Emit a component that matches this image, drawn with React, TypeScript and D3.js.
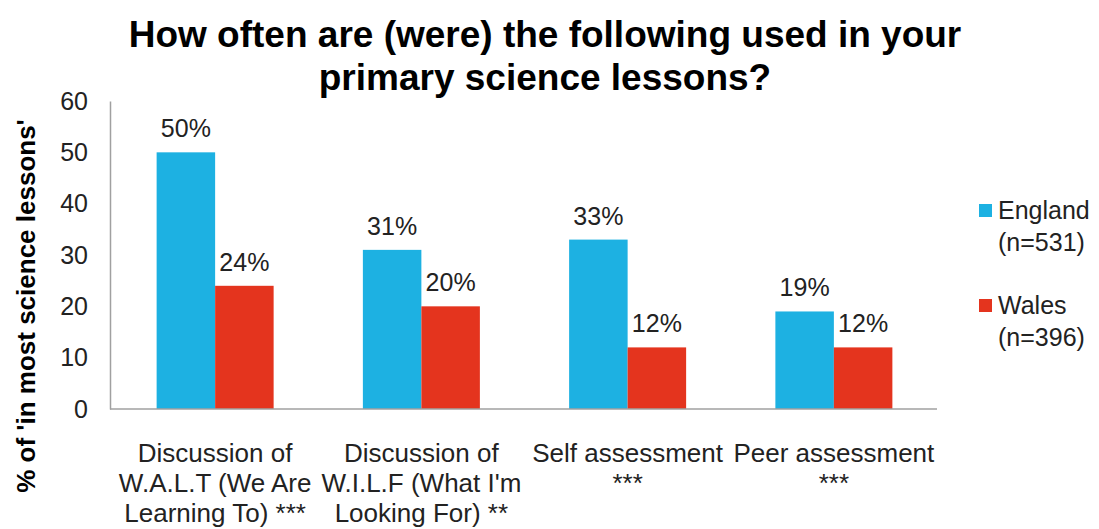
import React, { useEffect, useRef } from "react";
import * as d3 from "d3";

const categories = [
  ["Discussion of", "W.A.L.T (We Are", "Learning To) ***"],
  ["Discussion of", "W.I.L.F (What I'm", "Looking For) **"],
  ["Self assessment", "***"],
  ["Peer assessment", "***"],
];
const seriesNames = ["England", "Wales"];
const seriesLabels = [
  ["England", "(n=531)"],
  ["Wales", "(n=396)"],
];
const england = [50, 31, 33, 19];
const wales = [24, 20, 12, 12];
const yTicks = [0, 10, 20, 30, 40, 50, 60];
const colors = ["#1db1e2", "#e4341e"];

const FONT = "'Liberation Sans', Arial, sans-serif";

export default function App() {
  const ref = useRef<SVGSVGElement>(null);

  useEffect(() => {
    const svg = d3.select(ref.current);
    svg.selectAll("*").remove();

    const W = 1099, H = 529;
    const left = 110, right = 937, top = 101, bottom = 409;

    const x = d3.scaleBand<number>()
      .domain(categories.map((_, i) => i))
      .range([112, right])
      .padding(0);
    const x1 = d3.scaleBand<string>()
      .domain(seriesNames)
      .range([-58.5, 58.5]);
    const y = d3.scaleLinear().domain([0, 60]).range([bottom, top]);

    svg.attr("width", W).attr("height", H);

    // title
    const title = svg.append("text")
      .attr("x", 545)
      .attr("text-anchor", "middle")
      .attr("font-family", FONT)
      .attr("font-weight", "bold")
      .attr("font-size", 37)
      .attr("fill", "#000");
    title.append("tspan").attr("x", 545).attr("y", 47)
      .text("How often are (were) the following used in your");
    title.append("tspan").attr("x", 545).attr("y", 90)
      .text("primary science lessons?");

    // y axis title
    svg.append("text")
      .attr("transform", `translate(35,306) rotate(-90)`)
      .attr("text-anchor", "middle")
      .attr("font-family", FONT)
      .attr("font-weight", "bold")
      .attr("font-size", 26)
      .text("% of 'in most science lessons'");

    // y axis
    const yAxis = svg.append("g")
      .attr("transform", `translate(${left},0)`)
      .call(d3.axisLeft(y).tickValues(yTicks).tickSize(0).tickPadding(22));
    yAxis.select(".domain").attr("stroke", "#a0a0a0").attr("stroke-width", 1.5);
    yAxis.selectAll("text")
      .attr("font-family", FONT)
      .attr("font-size", 25)
      .attr("fill", "#222");

    // bars
    const series = [england, wales];
    series.forEach((vals, si) => {
      const g = svg.append("g");
      g.selectAll("rect")
        .data(vals)
        .join("rect")
        .attr("x", (_, i) => x(i)! + x.bandwidth() / 2 + x1(seriesNames[si])!)
        .attr("y", d => y(d))
        .attr("width", x1.bandwidth())
        .attr("height", d => y(0) - y(d))
        .attr("fill", colors[si]);
      g.selectAll("text")
        .data(vals)
        .join("text")
        .attr("x", (_, i) => x(i)! + x.bandwidth() / 2 + x1(seriesNames[si])! + x1.bandwidth() / 2)
        .attr("y", d => y(d) - 15)
        .attr("text-anchor", "middle")
        .attr("font-family", FONT)
        .attr("font-size", 25)
        .attr("fill", "#222")
        .text(d => `${d}%`);
    });

    // x axis line
    svg.append("line")
      .attr("x1", left).attr("x2", right)
      .attr("y1", bottom).attr("y2", bottom)
      .attr("stroke", "#a0a0a0").attr("stroke-width", 1.5);

    // category labels
    categories.forEach((lines, i) => {
      const t = svg.append("text")
        .attr("text-anchor", "middle")
        .attr("font-family", FONT)
        .attr("font-size", 26)
        .attr("fill", "#222");
      lines.forEach((ln, j) => {
        t.append("tspan")
          .attr("x", x(i)! + x.bandwidth() / 2)
          .attr("y", 462 + j * 30)
          .text(ln);
      });
    });

    // legend
    seriesLabels.forEach((lines, si) => {
      const base = 219 + si * 95;
      svg.append("rect")
        .attr("x", 979).attr("y", base - 9 - 6)
        .attr("width", 13).attr("height", 13)
        .attr("fill", colors[si]);
      const t = svg.append("text")
        .attr("font-family", FONT)
        .attr("font-size", 25)
        .attr("fill", "#222");
      lines.forEach((ln, j) => {
        t.append("tspan").attr("x", 998).attr("y", base + j * 32).text(ln);
      });
    });
  }, []);

  return (
    <svg ref={ref} style={{ position: "absolute", left: 0, top: 0, background: "#fff" }} />
  );
}
